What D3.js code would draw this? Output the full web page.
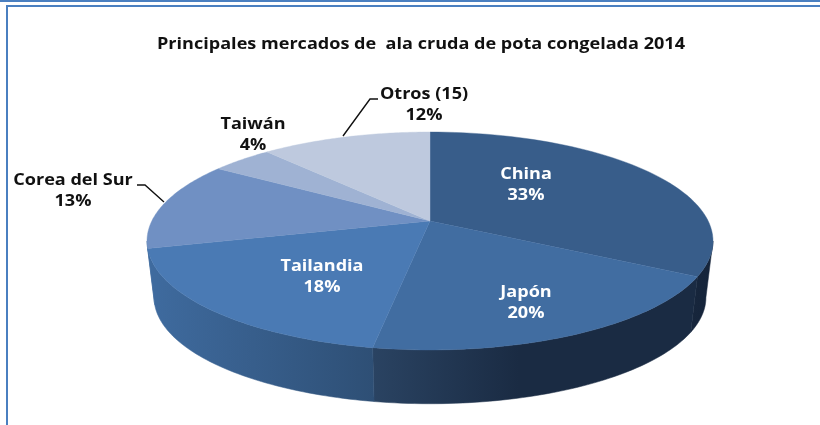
<!DOCTYPE html>
<html>
<head>
<meta charset="utf-8">
<script src="https://cdnjs.cloudflare.com/ajax/libs/d3/7.8.5/d3.min.js"></script>
<style>
html, body { margin: 0; padding: 0; background: #fff; overflow: hidden; }
svg { display: block; filter: blur(0.3px); }
text { font-family: "Open Sans", sans-serif; font-weight: 700; font-size: 16px; text-anchor: middle; }
</style>
</head>
<body>
<svg id="chart" width="820" height="425"></svg>
<script>
var title = "Principales mercados de  ala cruda de pota congelada 2014";
var categories = ["China", "Japón", "Tailandia", "Corea del Sur", "Taiwán", "Otros (15)"];
var shares = [33, 19.7, 18.3, 13.2, 4.2, 11.6];

var topColors = ["#385d8a", "#416da1", "#4a7ab4", "#7090c3", "#9fb2d3", "#bec9de"];
var sideStart = ["#15243a", "#1a2b43", "#3f6b9f", "#3f6b9f", "#3f6b9f", "#3f6b9f"];
var sideEnd = ["#17263c", "#2a4362", "#2e4f75", "#3f6b9f", "#3f6b9f", "#3f6b9f"];

// label centres, first line baseline
var labelX = [526, 526, 322, 73, 253, 424];
var labelY = [179, 297, 271, 185, 129, 99];
var labelColor = ["#fff", "#fff", "#fff", "#111", "#111", "#111"];

var leaders = [
  [[137, 185], [145, 185], [164, 202]],
  [[343, 136], [370, 99], [378, 99]]
];

var svg = d3.select("#chart");
var defs = svg.append("defs");

// the source picture is stretched sideways, so is the text
var stretch = 1.13;

// frame
svg.append("rect").attr("x", 0).attr("y", 0).attr("width", 820).attr("height", 2).attr("fill", "#4a7fc0");
svg.append("rect").attr("x", 6).attr("y", 5).attr("width", 814).attr("height", 2).attr("fill", "#4a7fc0");
svg.append("rect").attr("x", 6).attr("y", 5).attr("width", 2).attr("height", 420).attr("fill", "#4a7fc0");

svg.append("text").attr("transform", "translate(421,49) scale(" + stretch + ",1)")
  .attr("fill", "#111").style("white-space", "pre").text(title);

// perspective disc: angle -> screen point
var apexX = 430, apexY = 221, halfW = 278.2, halfH = 105.3, persp = 0.1835;
var baseScale = 0.975, baseDrop = 57;

function rim(a, scale, drop) {
  var u = Math.sin(a), v = -Math.cos(a);
  var w = 1 - persp * v;
  return [apexX + scale * halfW * u / w, apexY + drop + scale * halfH * v / w];
}

function arcPoints(a0, a1, scale, drop) {
  return d3.range(0, 61).map(function(i) {
    return rim(a0 + (a1 - a0) * i / 60, scale, drop);
  });
}

var pie = d3.pie().sort(null).value(function(d) { return d; });
var slices = pie(shares);
var line = d3.line();

// side wall, only the part of the rim facing the viewer
var sideFrom = Math.acos(-persp), sideTo = 2 * Math.PI - sideFrom;

slices.forEach(function(s, i) {
  var a0 = Math.max(s.startAngle, sideFrom), a1 = Math.min(s.endAngle, sideTo);
  if (a1 <= a0) return;
  var upper = arcPoints(a0, a1, 1, 0);
  var lower = arcPoints(a1, a0, baseScale, baseDrop);
  var xs = upper.concat(lower).map(function(p) { return p[0]; });
  var grad = defs.append("linearGradient").attr("id", "side" + i)
    .attr("gradientUnits", "userSpaceOnUse")
    .attr("x1", d3.max(xs)).attr("x2", d3.min(xs)).attr("y1", 0).attr("y2", 0);
  if (i == 1) {
    grad.append("stop").attr("offset", 0).attr("stop-color", sideStart[i]);
    grad.append("stop").attr("offset", 0.55).attr("stop-color", sideStart[i]);
  } else {
    grad.append("stop").attr("offset", 0).attr("stop-color", i == 2 ? sideEnd[i] : sideStart[i]);
  }
  grad.append("stop").attr("offset", 1).attr("stop-color", i == 2 ? sideStart[i] : sideEnd[i]);
  svg.append("path").attr("d", line(upper.concat(lower)) + "Z")
    .attr("fill", "url(#side" + i + ")").attr("stroke", "url(#side" + i + ")").attr("stroke-width", 0.5);
});

// top face
svg.selectAll("path.top").data(slices).enter().append("path")
  .attr("class", "top")
  .attr("fill", function(d, i) { return topColors[i]; })
  .attr("stroke", function(d, i) { return topColors[i]; })
  .attr("stroke-width", 0.4)
  .attr("d", function(d) {
    return line([[apexX, apexY]].concat(arcPoints(d.startAngle, d.endAngle, 1, 0))) + "Z";
  });

// leader lines
svg.selectAll("path.leader").data(leaders).enter().append("path")
  .attr("class", "leader").attr("d", line).attr("fill", "none")
  .attr("stroke", "#111").attr("stroke-width", 1.4);

// data labels
var labels = svg.selectAll("text.label").data(categories).enter().append("text")
  .attr("class", "label")
  .attr("transform", function(d, i) { return "translate(" + labelX[i] + "," + labelY[i] + ") scale(" + stretch + ",1)"; })
  .attr("fill", function(d, i) { return labelColor[i]; });
labels.append("tspan").attr("x", 0).attr("y", 0).text(function(d) { return d; });
labels.append("tspan").attr("x", 0).attr("y", 21.5)
  .text(function(d, i) { return Math.round(shares[i]) + "%"; });
</script>
</body>
</html>
